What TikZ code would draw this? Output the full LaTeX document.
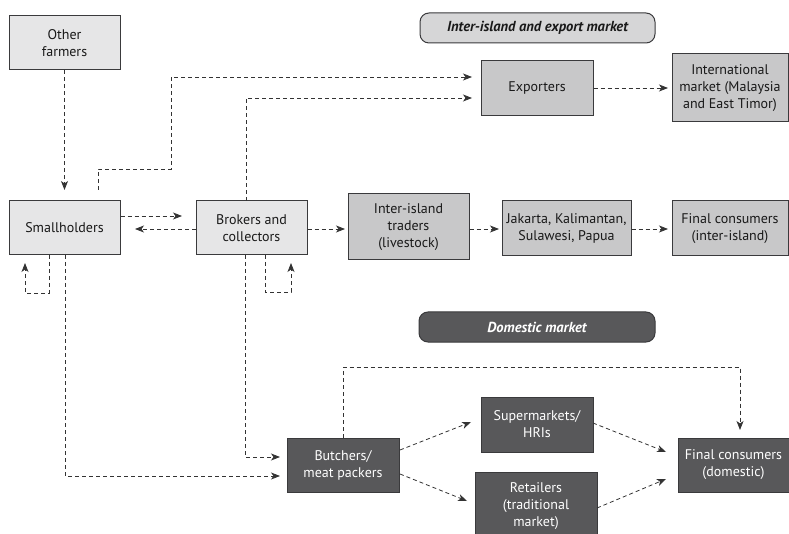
\documentclass[tikz,border=0pt]{standalone}
\usepackage{fontspec}
\setmainfont{PT Sans}
\usetikzlibrary{arrows.meta,calc}
\definecolor{lightfill}{HTML}{E6E6E7}
\definecolor{midfill}{HTML}{C8C8C9}
\definecolor{darkfill}{HTML}{58585A}
\definecolor{bannerlight}{HTML}{D6D6D7}
\definecolor{edge}{HTML}{3A3A3C}
\begin{document}
\begin{tikzpicture}[x=1pt,y=-1pt,
  box/.style={draw=edge,line width=1pt,align=center,inner sep=0pt,
    font=\fontsize{14}{17}\selectfont},
  lightbox/.style={box,fill=lightfill,text=black!90},
  midbox/.style={box,fill=midfill,text=black!90},
  darkbox/.style={box,fill=darkfill,text=white},
  banner/.style={draw=edge,line width=1pt,rounded corners=9pt,inner sep=0pt,
    font=\fontsize{14.5}{17}\selectfont\bfseries\itshape},
  flow/.style={draw=black!80,line width=0.8pt,dash pattern=on 4pt off 3pt,
    -{Stealth[length=9pt,width=7pt,inset=2.5pt]}}]
\useasboundingbox (0,0) rectangle (789,534);
\begin{scope}
\clip (0,0) rectangle (789,534);
\node[lightbox,minimum width=111pt,minimum height=54pt] (of) at (64.5,43) {Other\\farmers};
\node[lightbox,minimum width=111pt,minimum height=54pt] (sh) at (64.5,228) {Smallholders};
\node[lightbox,minimum width=111pt,minimum height=54pt] (bc) at (251.5,228) {Brokers and\\collectors};
\node[midbox,minimum width=121pt,minimum height=66pt] (it) at (408.5,227) {Inter-island\\traders\\(livestock)};
\node[midbox,minimum width=129pt,minimum height=55pt] (jk) at (566.5,228.5) {Jakarta, Kalimantan,\\Sulawesi, Papua};
\node[midbox,minimum width=116pt,minimum height=55pt] (fi) at (730,228.5) {Final consumers\\(inter-island)};
\node[midbox,minimum width=112pt,minimum height=55pt] (ex) at (537,88.5) {Exporters};
\node[midbox,minimum width=116pt,minimum height=68pt] (im) at (730,88) {International\\market (Malaysia\\and East Timor)};
\node[banner,fill=bannerlight,text=black!90,minimum width=235pt,minimum height=30pt] (b1) at (537.5,28) {Inter-island and export market};
\node[banner,fill=darkfill,text=white,minimum width=236pt,minimum height=30pt] (b2) at (537,327) {Domestic market};
\node[darkbox,minimum width=112pt,minimum height=55pt] (su) at (537,424.5) {Supermarkets/\\HRIs};
\node[darkbox,minimum width=122pt,minimum height=68pt] (re) at (536,506) {Retailers\\(traditional\\market)};
\node[darkbox,minimum width=111pt,minimum height=54pt] (fd) at (733.5,465) {Final consumers\\(domestic)};
\node[darkbox,minimum width=112pt,minimum height=54pt] (bu) at (343,465) {Butchers/\\meat packers};
\end{scope}
\coordinate (t1) at (64.5,190);
\coordinate (s2) at (98,190);
\coordinate (t2) at (472,77);
\coordinate (t3) at (472,98);
\coordinate (t4) at (182,216);
\coordinate (t5) at (135,229);
\coordinate (t6) at (345,229);
\coordinate (t7) at (499,229);
\coordinate (t8) at (668,229);
\coordinate (t9) at (668,88);
\coordinate (t10) at (25,263);
\coordinate (t11) at (280,476);
\coordinate (t12) at (280,457);
\coordinate (t13) at (291,263);
\coordinate (t14) at (740,430);
\coordinate (t15) at (471,422);
\coordinate (t16) at (467,501);
\coordinate (t17) at (666,452);
\coordinate (t18) at (666,479);
\draw[flow] (of.south) -- (t1);
\draw[flow] (s2) -- (98,169) -- (171,169) -- (171,77) -- (t2);
\draw[flow] (246,201) -- (246,98) -- (t3);
\draw[flow] (sh.east |- t4) -- (t4);
\draw[flow] (bc.west |- t5) -- (t5);
\draw[flow] (bc.east |- t6) -- (t6);
\draw[flow] (it.east |- t7) -- (t7);
\draw[flow] (jk.east |- t8) -- (t8);
\draw[flow] (ex.east |- t9) -- (t9);
\draw[flow] (49,255) -- (49,293) -- (25,293) -- (t10);
\draw[flow] (65,255) -- (65,476) -- (t11);
\draw[flow] (245,255) -- (245,457) -- (t12);
\draw[flow] (265,255) -- (265,292) -- (291,292) -- (t13);
\draw[flow] (bu.north) -- (343,367) -- (740,367) -- (t14);
\draw[flow] (400,450) -- (t15);
\draw[flow] (400,474) -- (t16);
\draw[flow] (593,423) -- (t17);
\draw[flow] (597,508) -- (t18);
\end{tikzpicture}
\end{document}
